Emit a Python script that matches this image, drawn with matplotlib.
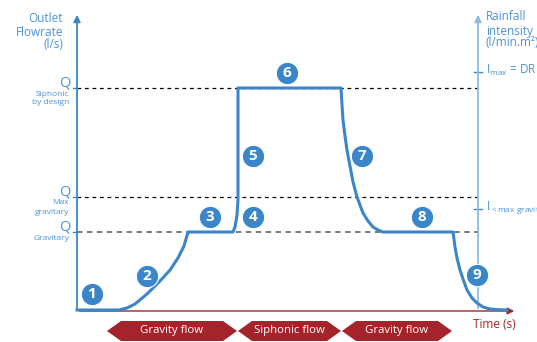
import matplotlib.pyplot as plt
from matplotlib.patches import Polygon

plt.rcParams['font.family'] = ['Open Sans', 'DejaVu Sans']

# outlet flowrate curve (time units, flow units)
time = [0, 42, 50, 58, 70, 83, 93, 101, 107, 111, 156, 158, 160, 161, 161,
        264, 265, 266, 268, 270, 273, 276, 280, 286, 291, 296, 301, 306,
        376, 378, 380, 383, 386, 390, 395, 400, 406, 413, 421, 430]
flow = [0, 0, 2, 6, 16, 29, 40, 52, 64, 78, 78, 83, 95, 110, 222,
        222, 205, 190, 174, 160, 144, 128, 113, 97, 89, 83, 80, 78,
        78, 63, 52, 40, 31, 20, 12, 7, 3, 1, 0.3, 0]

# reference levels
q_siphonic = 222
q_max_grav = 113
q_grav = 78
i_max = 238
i_below = 101
t_right_axis = 401

# numbered stages
stage_num = ['1', '2', '3', '4', '5', '6', '7', '8', '9']
stage_t = [15, 70, 133, 176, 176, 210, 285, 345, 400]
stage_q = [16, 34, 93, 93, 154, 237, 154, 93, 35]

# flow phases along the time axis
phase_names = ['Gravity flow', 'Siphonic flow', 'Gravity flow']
phase_start = [30, 161, 265]
phase_end = [160, 264, 375]

blue = '#3a86c8'
label_blue = '#4b93d4'
red = '#a5232a'

fig = plt.figure(figsize=(5.37, 3.42), dpi=100)
ax = fig.add_axes([0, 0, 1, 1])
ax.set_xlim(-77, 460)
ax.set_ylim(-32, 310)
ax.axis('off')

# dashed reference lines
ax.plot([0, t_right_axis], [q_siphonic, q_siphonic], color='black', lw=0.9, ls=(0, (3, 3)))
ax.plot([0, t_right_axis], [q_max_grav, q_max_grav], color='black', lw=0.9, ls=(0, (3, 3)))
ax.plot([0, t_right_axis], [q_grav, q_grav], color='#707070', lw=1.3, ls=(0, (3, 2.5)))

# axes with arrows
ax.annotate('', xy=(0, 298), xytext=(0, -1),
            arrowprops=dict(arrowstyle='-|>', color=blue, lw=1.3, mutation_scale=10))
ax.annotate('', xy=(t_right_axis, 298), xytext=(t_right_axis, -1),
            arrowprops=dict(arrowstyle='-|>', color='#8dbde6', lw=1.3, mutation_scale=10))
ax.annotate('', xy=(440, -1), xytext=(0, -1),
            arrowprops=dict(arrowstyle='-|>', color=red, lw=1.0, mutation_scale=10))

# small ticks
for q in [q_siphonic, q_max_grav, q_grav]:
    ax.plot([-4, 0], [q, q], color=blue, lw=1.0)
for q in [i_max, i_below]:
    ax.plot([t_right_axis - 4, t_right_axis + 4], [q, q], color=blue, lw=1.0)

ax.plot(time, flow, color=blue, lw=2.2, solid_joinstyle='round', zorder=3)

ax.scatter(stage_t, stage_q, s=260, color=blue, edgecolor='white', lw=0.8, zorder=4)
for n, t, q in zip(stage_num, stage_t, stage_q):
    ax.text(t, q, n, color='white', fontsize=11, fontweight='bold',
            ha='center', va='center', zorder=5)

# left labels
for txt, q in zip(['Outlet', 'Flowrate', '(l/s)'], [292, 278, 266]):
    ax.text(-14, q, txt, color=label_blue, fontsize=8.5, ha='right', va='center')
for q_lvl, sub in zip([q_siphonic, q_max_grav, q_grav],
                      [['Siphonic', 'by design'], ['Max', 'gravitary'], ['Gravitary']]):
    ax.text(-6, q_lvl + 5, 'Q', color=label_blue, fontsize=10.5, ha='right', va='center')
    for i, s in enumerate(sub):
        ax.text(-8, q_lvl - 6 - 9 * i, s, color=label_blue, fontsize=6, ha='right', va='center')

# right labels
for txt, q in zip(['Rainfall', 'intensity', '(l/min.m²)'], [293, 279, 267]):
    ax.text(409, q, txt, color=label_blue, fontsize=8.5, ha='left', va='center')
ax.text(409, 240, r'$\mathregular{I_{max}}$ = DR', color=label_blue, fontsize=8.5, ha='left', va='center')
ax.text(409, 103, r'$\mathregular{I_{<max\ gravity}}$', color=label_blue, fontsize=8.5,
        ha='left', va='center')

ax.text(396, -15, 'Time (s)', color=red, fontsize=8.5, ha='left', va='center')

# phase banners
for name, t0, t1 in zip(phase_names, phase_start, phase_end):
    tip = 14
    yc, h = -21, 10
    pts = [(t0, yc), (t0 + tip, yc + h), (t1 - tip, yc + h), (t1, yc),
           (t1 - tip, yc - h), (t0 + tip, yc - h)]
    ax.add_patch(Polygon(pts, closed=True, color=red, lw=0))
    ax.text((t0 + t1) / 2, yc, name, color='white', fontsize=8.2, ha='center', va='center')

fig.savefig('out.png', dpi=100)
